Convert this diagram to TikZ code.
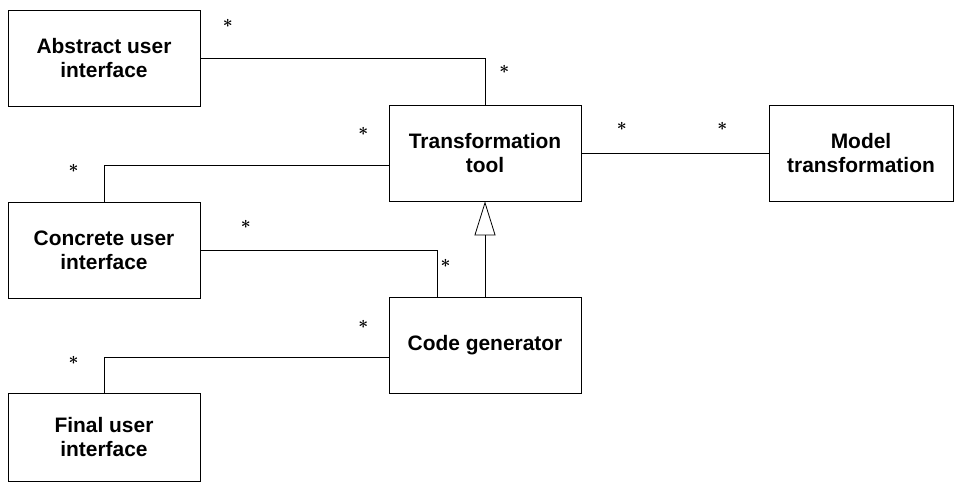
\documentclass[tikz,border=0pt]{standalone}
\usepackage{fontspec}
\setmainfont{Liberation Sans}
\usetikzlibrary{arrows.meta,positioning}

\begin{document}
\begin{tikzpicture}[x=1bp,y=-1bp,on grid,line width=0.8pt]
            \tikzstyle{class}=[draw, fill=white, minimum width=192bp, minimum height=96bp, align=center, inner sep=0pt, font=\fontsize{21}{24}\selectfont\bfseries]
            \tikzstyle{mult}=[inner sep=0pt, font=\fontsize{19}{19}\selectfont\boldmath]

            \useasboundingbox[fill=white] (0,0) rectangle (954,485);

            \node[class]   (abstract) at (104,58)                            {Abstract user\\interface};
            \node[class]   (concrete) [below=192bp of abstract]              {Concrete user\\interface};
            \node[class, minimum height=88bp] (final) [below=187bp of concrete] {Final user\\interface};
            \node[class]   (tool)     [below right=95bp and 381bp of abstract] {Transformation\\tool};
            \node[class]   (code)     [below=192bp of tool]                  {Code generator};
            \node[class, minimum width=184bp] (model) [right=376bp of tool]  {Model\\transformation};

            \draw (abstract.east) -| (tool.north);
            \draw ([yshift=-12bp]tool.west) -| (concrete.north);
            \draw (concrete.east) -| ([xshift=-48bp]code.north);
            \draw ([yshift=-12bp]code.west) -| (final.north);
            \draw (tool.east) -- (model.west);
            \draw[-{Triangle[open, length=34bp, width=21bp]}] (code.north) -- (tool.south);

            \node[mult] (m1)  [above right=30bp and 22bp of abstract.east] {$\ast$};
            \node[mult] (m2)  [above right=31bp and 14bp of tool.north]    {$\ast$};
            \node[mult] (m3)  [above left=17bp and 20bp of tool.west]      {$\ast$};
            \node[mult] (m4)  [above left=29bp and 25bp of concrete.north] {$\ast$};
            \node[mult] (m5)  [above right=21bp and 40bp of concrete.east] {$\ast$};
            \node[mult] (m6)  [above left=29bp and 34bp of code.north]     {$\ast$};
            \node[mult] (m7)  [above left=16bp and 20bp of code.west]      {$\ast$};
            \node[mult] (m8)  [above left=28bp and 25bp of final.north]    {$\ast$};
            \node[mult] (m9)  [above right=22bp and 35bp of tool.east]     {$\ast$};
            \node[mult] (m10) [above left=22bp and 41bp of model.west]     {$\ast$};
        \end{tikzpicture}
\end{document}
